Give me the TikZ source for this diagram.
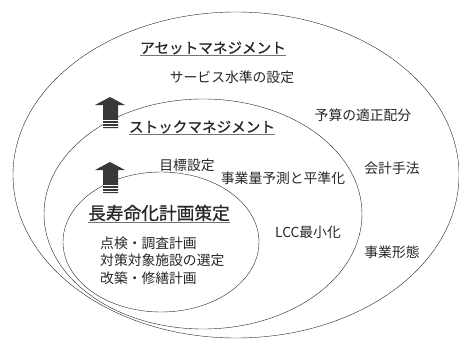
\documentclass[tikz,border=0pt]{standalone}
\usepackage{fontspec}
\setmainfont{Noto Sans CJK JP}
\newfontfamily\headfont[FakeBold=0.7]{Noto Sans CJK JP}
\begin{document}
\begin{tikzpicture}[x=1pt, y=-1pt,
  heading/.style={inner sep=0pt, text=black!85, font=\headfont\fontsize{14.6}{16}\selectfont},
  item/.style={inner sep=0pt, text=black!85, font=\fontsize{13.8}{17.5}\selectfont}]

\useasboundingbox (0,0) rectangle (459,340);

% three nested ovals, touching at the lower left
\draw[black!85] (236,175) ellipse [x radius=223, y radius=163];
\draw[black!85] (203,214) ellipse [x radius=159, y radius=115];
\draw[black!85] (161,242) ellipse [x radius=98, y radius=70];

%% up arrows between the levels
\foreach \y in {97,162}
  {
   \fill[black!78] (95,\y+8) -- (110,\y) -- (125,\y+8) -- (118,\y+8)
     -- (118,\y+31) -- (103,\y+31) -- (103,\y+8) -- cycle;
   \foreach \s in {23,26,29}
     \draw[white, line width=0.6pt] (103,\y+\s) -- (118,\y+\s);
  }

% headings
\path
(213,48) node[heading] (asset) {アセットマネジメント}
(202,127) node[heading] (stock) {ストックマネジメント}
(159,213) node[heading, font=\headfont\fontsize{17.7}{19}\selectfont] (life) {長寿命化計画策定};
\foreach \h in {asset, stock, life}
  \draw[black!55, thin] ([yshift=-1pt]\h.south west) -- ([yshift=-1pt]\h.south east);

% asset management
\path
(232,77) node[item] (service) {サービス水準の設定}
(363,115) node[item] (budget) {予算の適正配分}
(392,168) node[item] (account) {会計手法}
(392,252) node[item] (business) {事業形態};

% stock management
\path
(187,165) node[item] (target) {目標設定}
(283,178) node[item] (forecast) {事業量予測と平準化}
(308,232) node[item] (lcc) {LCC最小化};

% long life plan
\path
(100,243) node[item, anchor=west, align=left, yshift=-17.5pt] (plans)
{点検・調査計画\\ 対策対象施設の選定\\ 改築・修繕計画};

\end{tikzpicture}
\end{document}
